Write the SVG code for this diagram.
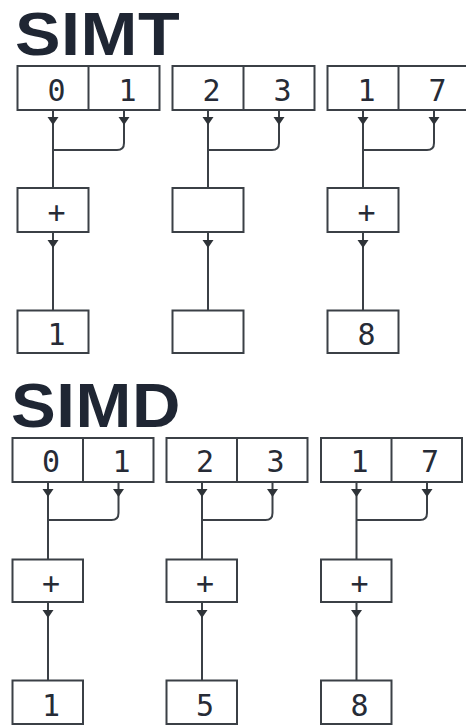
<svg xmlns="http://www.w3.org/2000/svg" width="466" height="726" viewBox="0 0 466 726">
<style>
.box{fill:#fff;stroke:#3b4046;stroke-width:2}
.ln{fill:none;stroke:#3b4046;stroke-width:2}
.ah{fill:#2e3338}
.t{font-family:"DejaVu Sans Mono","Liberation Mono",monospace;font-size:30px;fill:#262b36;text-anchor:middle}
.h{font-family:"Liberation Sans",Arial,sans-serif;font-weight:bold;font-size:61px;fill:#1f2633}
</style>
<rect width="466" height="726" fill="#fff"/>
<text class="h" transform="translate(15,55) scale(1.12,1)" textLength="147" lengthAdjust="spacing">SIMT</text>
<text class="h" transform="translate(11,427) scale(1.1,1.04)" textLength="154" lengthAdjust="spacing">SIMD</text>

<g id="connectors">
<path class="ln" d="M53,110 V188 M124,110 V143 Q124,150 117,150 H53 M53,232 V310.5"/>
<path class="ln" d="M208,110 V188 M279,110 V143 Q279,150 272,150 H208 M208,232 V310.5"/>
<path class="ln" d="M363,110 V188 M434,110 V143 Q434,150 427,150 H363 M363,232 V310.5"/>
<path class="ln" d="M48,482 V559.5 M118.5,482 V513 Q118.5,520 111.5,520 H48 M48,602 V680.5"/>
<path class="ln" d="M202,482 V559.5 M272.5,482 V513 Q272.5,520 265.5,520 H202 M202,602 V680.5"/>
<path class="ln" d="M356.5,482 V559.5 M427,482 V513 Q427,520 420,520 H356.5 M356.5,602 V680.5"/>
<g class="ah">
<polygon points="47.5,117 58.5,117 53,125"/>
<polygon points="118.5,117 129.5,117 124,125"/>
<polygon points="202.5,117 213.5,117 208,125"/>
<polygon points="273.5,117 284.5,117 279,125"/>
<polygon points="357.5,117 368.5,117 363,125"/>
<polygon points="428.5,117 439.5,117 434,125"/>
<polygon points="47.5,240 58.5,240 53,248"/>
<polygon points="202.5,240 213.5,240 208,248"/>
<polygon points="357.5,240 368.5,240 363,248"/>
<polygon points="42.5,489 53.5,489 48,497"/>
<polygon points="113,489 124,489 118.5,497"/>
<polygon points="196.5,489 207.5,489 202,497"/>
<polygon points="267,489 278,489 272.5,497"/>
<polygon points="351,489 362,489 356.5,497"/>
<polygon points="421.5,489 432.5,489 427,497"/>
<polygon points="42.5,610 53.5,610 48,618"/>
<polygon points="196.5,610 207.5,610 202,618"/>
<polygon points="351,610 362,610 356.5,618"/>
</g>
</g>

<g id="simt-in-1">
<rect class="box" x="17.5" y="66" width="142" height="44"/>
<line class="ln" x1="88.5" y1="66" x2="88.5" y2="110"/>
<text class="t" x="56.5" y="101">0</text>
<text class="t" x="127.5" y="101">1</text>
</g>
<g id="simt-in-2">
<rect class="box" x="172.5" y="66" width="142" height="44"/>
<line class="ln" x1="243.5" y1="66" x2="243.5" y2="110"/>
<text class="t" x="211.5" y="101">2</text>
<text class="t" x="282.5" y="101">3</text>
</g>
<g id="simt-in-3">
<rect class="box" x="327.5" y="66" width="142" height="44"/>
<line class="ln" x1="398.5" y1="66" x2="398.5" y2="110"/>
<text class="t" x="366.5" y="101">1</text>
<text class="t" x="437.5" y="101">7</text>
</g>
<g id="simt-op-1"><rect class="box" x="17.5" y="188" width="71" height="44"/><text class="t" x="56.5" y="223">+</text></g>
<g id="simt-op-2"><rect class="box" x="172.5" y="188" width="71" height="44"/></g>
<g id="simt-op-3"><rect class="box" x="327.5" y="188" width="71" height="44"/><text class="t" x="366.5" y="223">+</text></g>
<g id="simt-out-1"><rect class="box" x="17.5" y="310.5" width="71" height="42.5"/><text class="t" x="56.5" y="345">1</text></g>
<g id="simt-out-2"><rect class="box" x="172.5" y="310.5" width="71" height="42.5"/></g>
<g id="simt-out-3"><rect class="box" x="327.5" y="310.5" width="71" height="42.5"/><text class="t" x="366.5" y="345">8</text></g>

<g id="simd-in-1">
<rect class="box" x="12.5" y="438" width="141" height="44"/>
<line class="ln" x1="83" y1="438" x2="83" y2="482"/>
<text class="t" x="51" y="472">0</text>
<text class="t" x="121.5" y="472">1</text>
</g>
<g id="simd-in-2">
<rect class="box" x="166.5" y="438" width="141" height="44"/>
<line class="ln" x1="237" y1="438" x2="237" y2="482"/>
<text class="t" x="205" y="472">2</text>
<text class="t" x="275.5" y="472">3</text>
</g>
<g id="simd-in-3">
<rect class="box" x="321" y="438" width="141" height="44"/>
<line class="ln" x1="391.5" y1="438" x2="391.5" y2="482"/>
<text class="t" x="359.5" y="472">1</text>
<text class="t" x="430" y="472">7</text>
</g>
<g id="simd-op-1"><rect class="box" x="12.5" y="559.5" width="70.5" height="42.5"/><text class="t" x="51" y="594">+</text></g>
<g id="simd-op-2"><rect class="box" x="166.5" y="559.5" width="70.5" height="42.5"/><text class="t" x="205" y="594">+</text></g>
<g id="simd-op-3"><rect class="box" x="321" y="559.5" width="70.5" height="42.5"/><text class="t" x="359.5" y="594">+</text></g>
<g id="simd-out-1"><rect class="box" x="12.5" y="680.5" width="70.5" height="43.5"/><text class="t" x="51" y="716">1</text></g>
<g id="simd-out-2"><rect class="box" x="166.5" y="680.5" width="70.5" height="43.5"/><text class="t" x="205" y="716">5</text></g>
<g id="simd-out-3"><rect class="box" x="321" y="680.5" width="70.5" height="43.5"/><text class="t" x="359.5" y="716">8</text></g>
</svg>
